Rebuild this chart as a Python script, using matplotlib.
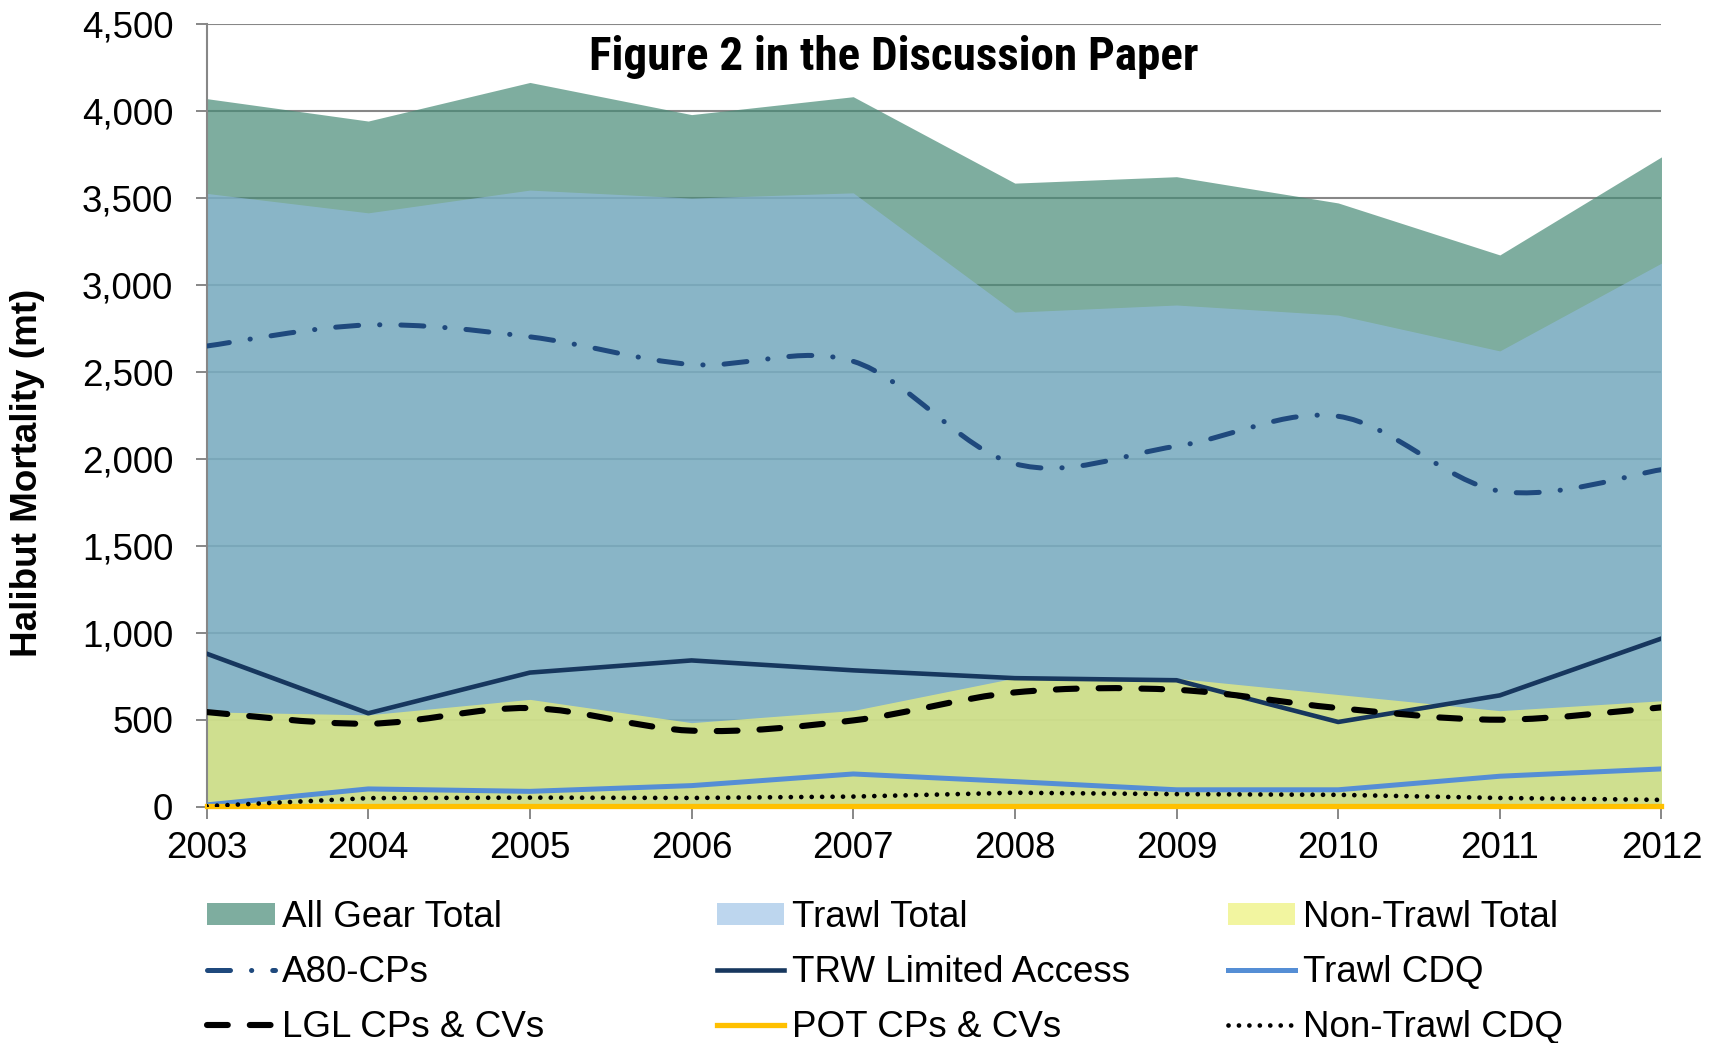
import numpy as np
import matplotlib
matplotlib.use("Agg")
import matplotlib.pyplot as plt
from matplotlib import font_manager
from matplotlib.font_manager import FontProperties
from matplotlib.path import Path
from matplotlib.patches import PathPatch, Patch
from matplotlib.lines import Line2D
from matplotlib.ticker import FuncFormatter

# Data (halibut mortality, mt)
years = [2003, 2004, 2005, 2006, 2007, 2008, 2009, 2010, 2011, 2012]
all_gear_total = [4072, 3943, 4165, 3980, 4083, 3586, 3623, 3472, 3173, 3737]
trawl_total = [3527, 3415, 3546, 3500, 3530, 2844, 2885, 2827, 2621, 3126]
non_trawl_total = [545, 528, 617, 483, 553, 740, 738, 645, 552, 609]
a80_cps = [2649, 2770, 2702, 2543, 2561, 1972, 2073, 2245, 1815, 1938]
trw_limited_access = [880, 537, 771, 841, 784, 739, 727, 487, 640, 967]
trawl_cdq = [10, 102, 88, 121, 188, 144, 97, 97, 175, 217]
lgl_cps_cvs = [544, 477, 567, 437, 496, 657, 672, 567, 500, 571]
pot_cps_cvs = [6, 6, 6, 6, 6, 6, 6, 6, 6, 6]
non_trawl_cdq = [3, 49, 52, 50, 58, 80, 72, 68, 50, 39]

FONT = "Liberation Sans"
plt.rcParams["font.family"] = FONT

GRID = "#878787"
FS = 26.5


def narrow_bold_font():
    """Find a condensed bold sans face for the title (Arial Narrow look-alike)"""
    best, best_score = None, -1
    for f in font_manager.fontManager.ttflist:
        name = f.name + " " + f.fname
        w = f.weight if isinstance(f.weight, int) else (700 if "bold" in str(f.weight) else 400)
        if w < 600 or "italic" in f.style or "oblique" in f.style:
            continue
        narrow = ("Narrow" in name or "Condensed" in name or "Cond" in name
                  or f.stretch in ("condensed", "semi-condensed", "extra-condensed"))
        if not narrow or "Serif" in name or "Mono" in name:
            continue
        score = 1
        if "Liberation Sans Narrow" in f.name or "Arial Narrow" in f.name:
            score = 5
        elif "Roboto" in name:
            score = 4
        elif "Open Sans" in name or "OpenSans" in name:
            score = 3
        elif "DejaVu" in name:
            score = 2
        if w > 750:
            score -= 0.5
        if score > best_score:
            best, best_score = f.fname, score
    return best


def smooth_line(ax, x, y, **kw):
    """Excel-style smoothed line: Catmull-Rom as cubic Bezier path"""
    x = np.asarray(x, float)
    y = np.asarray(y, float)
    n = len(x)
    verts = [(x[0], y[0])]
    codes = [Path.MOVETO]
    for i in range(n - 1):
        ip, inx = max(i - 1, 0), min(i + 2, n - 1)
        c1 = (x[i] + (x[i + 1] - x[ip]) / 6, y[i] + (y[i + 1] - y[ip]) / 6)
        c2 = (x[i + 1] - (x[inx] - x[i]) / 6, y[i + 1] - (y[inx] - y[i]) / 6)
        verts += [c1, c2, (x[i + 1], y[i + 1])]
        codes += [Path.CURVE4] * 3
    patch = PathPatch(Path(verts, codes), fill=False, **kw)
    ax.add_patch(patch)
    return patch


fig = plt.figure(figsize=(17.23, 10.43), dpi=100)
ax = fig.add_axes([0.1199, 0.2266, 0.8444, 0.7502])

# areas (overlapping, semi-transparent like Excel)
green = dict(color="#488b76", alpha=0.7)
blue = dict(color="#91bce3", alpha=0.6)
yellow = dict(color="#edf179", alpha=0.71)
ax.fill_between(years, 0, all_gear_total, lw=0, zorder=1, **green)
ax.fill_between(years, 0, trawl_total, lw=0, zorder=1.1, **blue)
ax.fill_between(years, 0, non_trawl_total, lw=0, zorder=1.2, **yellow)

# lines
a80_style = dict(color="#1f497d", lw=3.6, ls=(0, (4.6, 4.2, 0.05, 4.2)))
lgl_style = dict(color="black", lw=4.4, ls=(0, (3.4, 3.6)))
dot_style = dict(color="black", lw=3.4, ls=(0, (0.01, 2.2)))
smooth_line(ax, years, a80_cps, edgecolor=a80_style["color"], linewidth=a80_style["lw"],
            linestyle=a80_style["ls"], capstyle="round", joinstyle="round", zorder=5)
ax.plot(years, trw_limited_access, color="#17375e", lw=3.3, zorder=5)
ax.plot(years, trawl_cdq, color="#558ed5", lw=3.6, zorder=5)
smooth_line(ax, years, lgl_cps_cvs, edgecolor=lgl_style["color"], linewidth=lgl_style["lw"],
            linestyle=lgl_style["ls"], capstyle="round", joinstyle="round", zorder=5)
ax.plot(years, pot_cps_cvs, color="#ffc000", lw=3.8, zorder=5, clip_on=False)
ax.plot(years, non_trawl_cdq, dash_capstyle="round", zorder=6, **dot_style)

# axes
ax.set_xlim(2003, 2012)
ax.set_ylim(0, 4500)
ax.set_xticks(years)
ax.set_yticks(range(0, 4501, 500))
ax.yaxis.set_major_formatter(FuncFormatter(lambda v, p: f"{v:,.0f}"))
ax.set_axisbelow(True)
ax.yaxis.grid(True, color=GRID, lw=1.5)
for s in ["top", "right"]:
    ax.spines[s].set_visible(False)
for s in ["left", "bottom"]:
    ax.spines[s].set_color(GRID)
    ax.spines[s].set_linewidth(1.5)
ax.tick_params(axis="y", length=8, width=1.4, color=GRID, pad=16, labelsize=FS)
ax.tick_params(axis="x", length=8.6, width=1.4, color=GRID, pad=8.6, labelsize=FS)

# title: Arial Narrow Bold in the original
title_path = narrow_bold_font()
if title_path:
    title_fp = FontProperties(fname=title_path, size=34.5)
else:
    title_fp = FontProperties(family=FONT, weight="bold", size=30)
title = fig.text(0.5186, 1 - 70 / 1043, "Figure 2 in the Discussion Paper",
                 fontproperties=title_fp, ha="center", va="baseline")
# keep the title about as wide as the original (~610 px)
fig.canvas.draw()
w = title.get_window_extent().width
title_fp.set_size(title_fp.get_size() * min(1.0, 610 / w))
title.set_fontproperties(title_fp)

fig.text(0.016, 0.5465, "Halibut Mortality (mt)", fontsize=FS, fontweight="bold",
         rotation=90, ha="center", va="center")

# legend, three equal-width columns
cols = [
    [(Patch(**green, lw=0), "All Gear Total"),
     (Line2D([], [], dash_capstyle="round", **a80_style), "A80-CPs"),
     (Line2D([], [], dash_capstyle="round", **lgl_style), "LGL CPs & CVs")],
    [(Patch(**blue, lw=0), "Trawl Total"),
     (Line2D([], [], color="#17375e", lw=3.3), "TRW Limited Access"),
     (Line2D([], [], color="#ffc000", lw=3.8), "POT CPs & CVs")],
    [(Patch(**yellow, lw=0), "Non-Trawl Total"),
     (Line2D([], [], color="#558ed5", lw=3.6), "Trawl CDQ"),
     (Line2D([], [], dash_capstyle="round", **dot_style), "Non-Trawl CDQ")],
]
for x0, col in zip([0.1201, 0.416, 0.7125], cols):
    fig.legend([h for h, _ in col], [l for _, l in col], loc="upper left",
               bbox_to_anchor=(x0, 1 - 900 / 1043), frameon=False, fontsize=FS,
               handlelength=1.84, handleheight=0.52, handletextpad=0.2,
               labelspacing=0.54, borderpad=0, borderaxespad=0)

fig.savefig("out.png", dpi=100)
